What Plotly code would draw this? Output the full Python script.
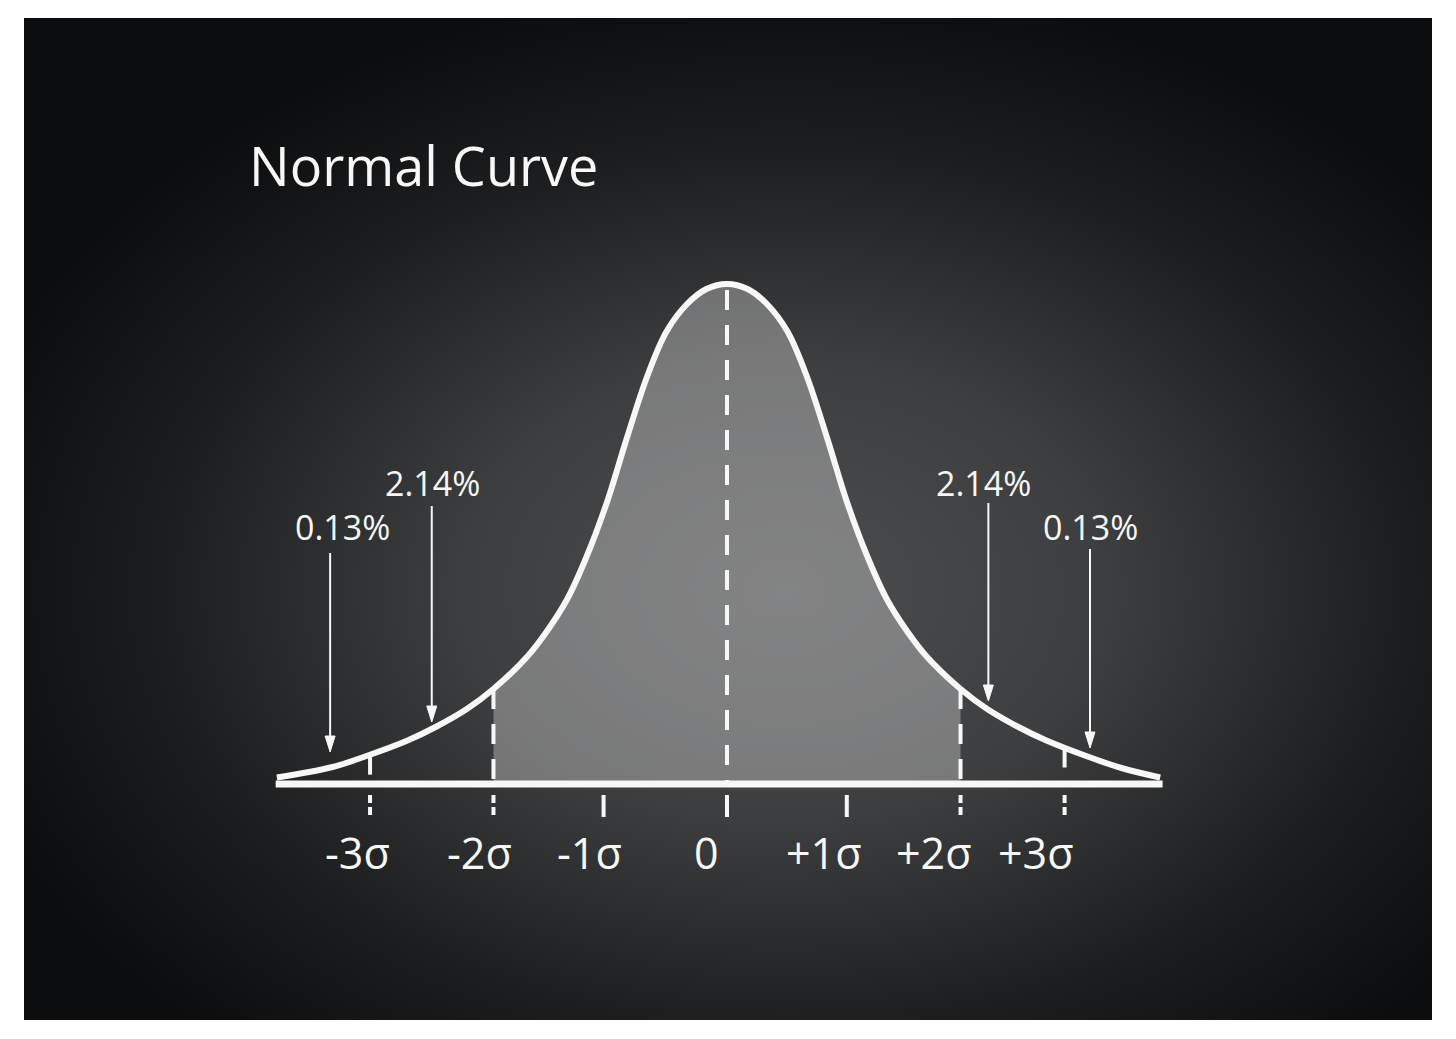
import base64
import numpy as np
import plotly.graph_objects as go

# curve: x in sigma units, y as height relative to the peak
curve_x = [-3.72, -3.26, -2.98, -2.64, -2.40, -2.15, -1.93, -1.65, -1.49, -1.32, -1.16, -0.99, -0.83, -0.66,
           -0.50, -0.33, -0.17, 0.0, 0.17, 0.33, 0.50, 0.66, 0.83, 0.99, 1.16, 1.32, 1.49, 1.65, 1.93,
           2.15, 2.40, 2.64, 2.98, 3.26, 3.58]
curve_y = [0.013, 0.034, 0.056, 0.087, 0.115, 0.150, 0.190, 0.255, 0.305, 0.370, 0.455, 0.565, 0.690, 0.815,
           0.905, 0.960, 0.990, 1.0, 0.990, 0.960, 0.905, 0.815, 0.690, 0.565, 0.455, 0.370, 0.305, 0.255, 0.190,
           0.150, 0.115, 0.087, 0.055, 0.032, 0.013]

shade_from, shade_to = -1.93, 1.93
base_x = [-3.73, 3.60]
guide_x = [-2.95, -1.93, 0.0, 1.93, 2.79]      # dashed drops from the curve
tick_x = [-2.95, -1.93, -1.02, 0.0, 0.99, 1.93, 2.79]
tick_labels = ["-3σ", "-2σ", "-1σ", "0", "+1σ", "+2σ", "+3σ"]

pct_labels = ["0.13%", "2.14%", "2.14%", "0.13%"]
pct_x = [-3.18, -2.43, 2.12, 3.00]
pct_y = [0.514, 0.602, 0.602, 0.514]
arrow_x = [-3.28, -2.44, 2.16, 3.00]
arrow_from = [0.462, 0.556, 0.562, 0.470]
arrow_to = [0.064, 0.124, 0.166, 0.072]

title = "Normal Curve"

# page geometry (px); the page body adds an 8px margin round the figure
OFF = 8
W, H = 1456 - 2 * OFF, 1039 - 2 * OFF
X0, PX_X = 727 - OFF, 121      # pixel of sigma 0, pixels per sigma
Y0, PX_Y = 784 - OFF, 500      # pixel of baseline, pixels per unit height
FONT = "Open Sans, Noto Sans, sans-serif"
WHITE = "#f7f7f7"

x_range = [-X0 / PX_X, (W - X0) / PX_X]
y_range = [(Y0 - H) / PX_Y, Y0 / PX_Y]

# chalkboard background as an svg radial gradient
bx0, by0, bx1, by1 = 24 - OFF, 18 - OFF, 1432 - OFF, 1020 - OFF
svg = (
    f"<svg xmlns='http://www.w3.org/2000/svg' width='{bx1 - bx0}' height='{by1 - by0}'>"
    "<defs><radialGradient id='g' cx='0.54' cy='0.57' r='0.6'>"
    "<stop offset='0' stop-color='#4c4d4e'/>"
    "<stop offset='0.38' stop-color='#3d3e3f'/>"
    "<stop offset='0.74' stop-color='#1c1d1e'/>"
    "<stop offset='1' stop-color='#0c0d0e'/>"
    "</radialGradient></defs>"
    "<rect width='100%' height='100%' fill='url(#g)'/></svg>"
)
bg_src = "data:image/svg+xml;base64," + base64.b64encode(svg.encode()).decode()

fig = go.Figure()

# shaded area between -2 and +2 sigma
sx = [x for x in curve_x if shade_from <= x <= shade_to]
sy = [y for x, y in zip(curve_x, curve_y) if shade_from <= x <= shade_to]
fig.add_trace(go.Scatter(x=sx, y=sy, mode="lines", fill="tozeroy",
                         fillcolor="rgba(255,255,255,0.31)",
                         line=dict(width=0, shape="spline"), hoverinfo="skip"))

# dashed drops
for gx in guide_x:
    top = float(np.interp(gx, curve_x, curve_y))
    if gx == 0.0:
        top = max(curve_y) - 0.012
    fig.add_trace(go.Scatter(x=[gx, gx], y=[top, 0], mode="lines",
                             line=dict(color=WHITE, width=4, dash="20px,15px"), hoverinfo="skip"))

# small ticks under the axis
for i, tx in enumerate(tick_x):
    solid = tick_labels[i] in ("-1σ", "0", "+1σ")
    fig.add_trace(go.Scatter(x=[tx, tx], y=[-0.022, -0.066], mode="lines",
                             line=dict(color=WHITE, width=4, dash="solid" if solid else "8px,4px"),
                             hoverinfo="skip"))

# baseline and curve
fig.add_trace(go.Scatter(x=base_x, y=[0, 0], mode="lines",
                         line=dict(color=WHITE, width=7), hoverinfo="skip"))
fig.add_trace(go.Scatter(x=curve_x, y=curve_y, mode="lines",
                         line=dict(color=WHITE, width=6, shape="spline"), hoverinfo="skip"))

# arrows: shaft plus a narrow filled head
hl, hw = 16 / PX_Y, 5 / PX_X
for ax, y1, y2 in zip(arrow_x, arrow_from, arrow_to):
    fig.add_trace(go.Scatter(x=[ax, ax], y=[y1, y2 + hl * 0.5], mode="lines",
                             line=dict(color=WHITE, width=2), hoverinfo="skip"))
    fig.add_trace(go.Scatter(x=[ax - hw, ax, ax + hw, ax - hw], y=[y2 + hl, y2, y2 + hl, y2 + hl],
                             mode="lines", fill="toself", fillcolor=WHITE,
                             line=dict(color=WHITE, width=1), hoverinfo="skip"))

annotations = []
for lab, px, py in zip(pct_labels, pct_x, pct_y):
    annotations.append(dict(x=px, y=py, text=lab, showarrow=False,
                            font=dict(family=FONT, size=34, color=WHITE),
                            xanchor="center", yanchor="middle"))

label_shift = [-13, -14, -14, -21, -23, -27, -29]
for tx, lab, sh in zip(tick_x, tick_labels, label_shift):
    annotations.append(dict(x=tx, y=-0.136, text=lab, showarrow=False, xshift=sh,
                            font=dict(family=FONT, size=43, color=WHITE),
                            xanchor="center", yanchor="middle"))

annotations.append(dict(xref="paper", yref="paper", x=(247 - OFF) / W, y=1 - (165 - OFF) / H, text=title,
                        showarrow=False, xanchor="left", yanchor="middle",
                        font=dict(family=FONT, size=54, color=WHITE)))

fig.update_layout(
    width=W, height=H,
    margin=dict(l=0, r=0, t=0, b=0),
    paper_bgcolor="white",
    plot_bgcolor="rgba(0,0,0,0)",
    showlegend=False,
    xaxis=dict(range=x_range, visible=False, fixedrange=True),
    yaxis=dict(range=y_range, visible=False, fixedrange=True),
    annotations=annotations,
    images=[dict(source=bg_src, xref="paper", yref="paper",
                 x=bx0 / W, y=1 - by0 / H, sizex=(bx1 - bx0) / W, sizey=(by1 - by0) / H,
                 xanchor="left", yanchor="top", sizing="stretch", layer="below")],
)

fig.write_html("out.html")
